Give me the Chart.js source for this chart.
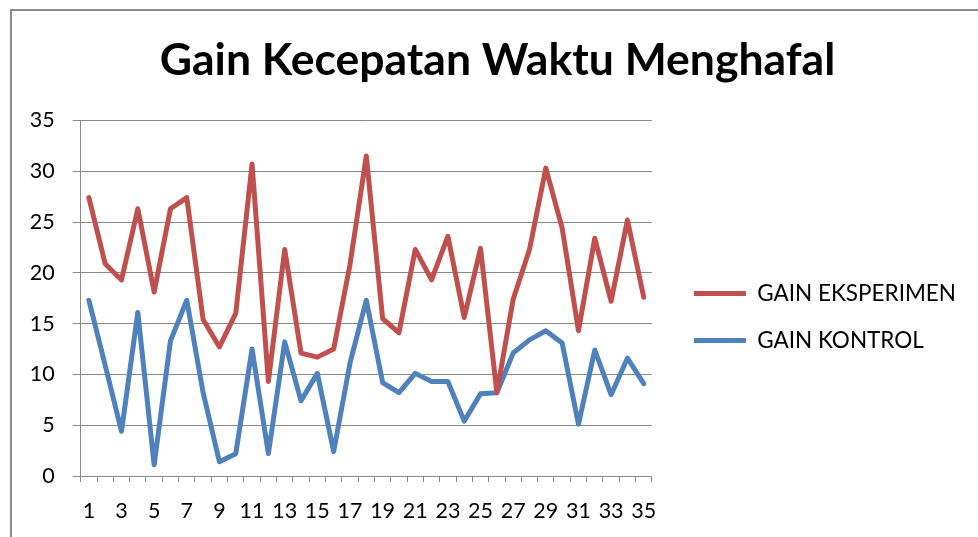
<!DOCTYPE html>
<html>
<head>
<meta charset="utf-8">
<script src="https://cdn.jsdelivr.net/npm/chart.js@4"></script>
<style>
  html, body { margin: 0; padding: 0; background: #fff; }
  #wrap { position: relative; width: 978px; height: 537px; overflow: hidden; }
  #frame { position: absolute; left: 10px; top: 9px; width: 1000px; height: 600px;
           border-left: 2px solid #8c8c8c; border-top: 2px solid #8c8c8c; pointer-events: none; }
  canvas { position: absolute; left: 0; top: 0; }
</style>
</head>
<body>
<div id="wrap">
  <canvas id="c" width="978" height="537"></canvas>
  <div id="frame"></div>
</div>
<script>
const titleText = 'Gain Kecepatan Waktu Menghafal';
const categories = ['1','2','3','4','5','6','7','8','9','10','11','12','13','14','15','16','17','18','19','20','21','22','23','24','25','26','27','28','29','30','31','32','33','34','35'];
const seriesNames = ['GAIN EKSPERIMEN', 'GAIN KONTROL'];
const gainEksperimen = [27.4, 20.9, 19.3, 26.3, 18.1, 26.3, 27.4, 15.4, 12.7, 16.0, 30.7, 9.3, 22.3, 12.1, 11.7, 12.5, 20.8, 31.5, 15.5, 14.1, 22.3, 19.3, 23.6, 15.6, 22.4, 8.2, 17.4, 22.3, 30.3, 24.4, 14.3, 23.4, 17.2, 25.2, 17.6];
const gainKontrol = [17.3, 10.9, 4.4, 16.1, 1.1, 13.3, 17.3, 8.2, 1.4, 2.2, 12.5, 2.2, 13.2, 7.4, 10.1, 2.4, 11.1, 17.3, 9.2, 8.2, 10.1, 9.3, 9.3, 5.4, 8.1, 8.2, 12.1, 13.4, 14.3, 13.1, 5.1, 12.4, 8.0, 11.6, 9.1];
const yTicks = [0, 5, 10, 15, 20, 25, 30, 35];

const RED = '#C0504D';
const BLUE = '#4F81BD';
const GRID = '#8a8a8a';
const FONT = 'Lato, "Open Sans", sans-serif';

new Chart(document.getElementById('c'), {
  type: 'line',
  data: {
    labels: categories,
    datasets: [
      { label: seriesNames[0], data: gainEksperimen, borderColor: RED, backgroundColor: RED,
        borderWidth: 5, pointRadius: 0, tension: 0, borderJoinStyle: 'round', borderCapStyle: 'round' },
      { label: seriesNames[1], data: gainKontrol, borderColor: BLUE, backgroundColor: BLUE,
        borderWidth: 5, pointRadius: 0, tension: 0, borderJoinStyle: 'round', borderCapStyle: 'round' }
    ]
  },
  options: {
    responsive: false,
    animation: false,
    devicePixelRatio: 1,
    layout: { padding: { left: 29, right: 12, top: 0, bottom: 0 } },
    plugins: {
      title: {
        display: true, text: titleText, color: '#000',
        font: { family: FONT, size: 44.5, weight: 'bold' },
        padding: { top: 34, bottom: 33 }
      },
      legend: {
        position: 'right',
        maxWidth: 400,
        title: { display: true, text: ' ', font: { size: 10 }, padding: { top: 85, bottom: 0 } },
        labels: {
          color: '#000',
          font: { family: FONT, size: 22.5 },
          usePointStyle: true, pointStyle: 'line', pointStyleWidth: 52,
          padding: 24.5
        }
      },
      tooltip: { enabled: false }
    },
    scales: {
      x: {
        offset: true,
        afterFit: function (s) { s.height = 61; },
        grid: { display: true, drawOnChartArea: false, drawTicks: true, tickLength: 6, offset: true, color: GRID, lineWidth: 1 },
        border: { display: true, color: GRID, width: 1 },
        ticks: {
          autoSkip: false, maxRotation: 0, minRotation: 0, padding: 16,
          color: '#000', font: { family: FONT, size: 21.5 },
          callback: function (v, i) { return i % 2 === 0 ? categories[i] : ''; }
        }
      },
      y: {
        min: 0, max: 35,
        afterFit: function (s) { s.width = 51.7; },
        afterBuildTicks: function (s) { s.ticks = yTicks.map(v => ({ value: v })); },
        grid: { color: GRID, lineWidth: 1, drawTicks: true, tickLength: 8 },
        border: { display: true, color: GRID, width: 1 },
        ticks: { color: '#000', font: { family: FONT, size: 21.5 }, padding: 18 }
      },
      gap: {
        type: 'linear', position: 'right', display: true,
        grid: { display: false }, border: { display: false },
        ticks: { display: false },
        afterFit: function (s) { s.width = 17.5; }
      }
    }
  }
});
</script>
</body>
</html>
